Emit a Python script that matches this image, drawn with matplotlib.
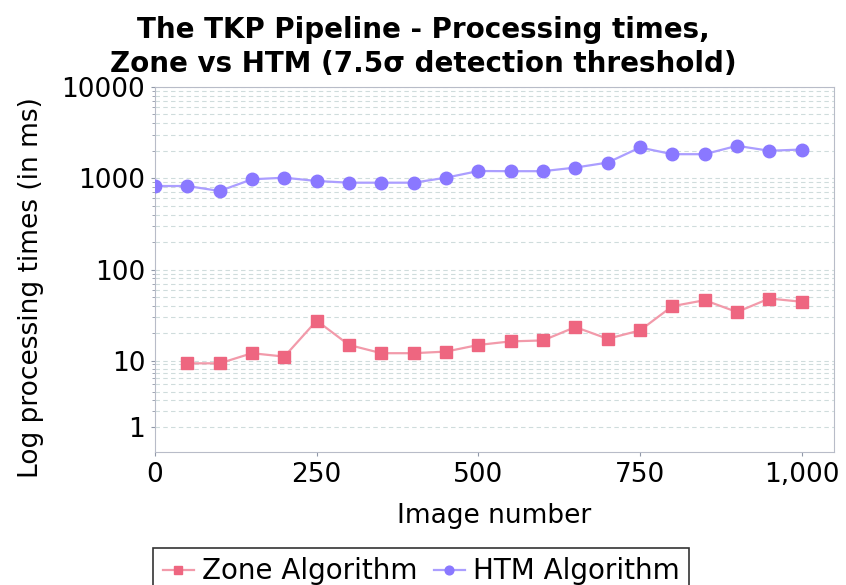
import numpy as np
import matplotlib.pyplot as plt
from matplotlib.ticker import FixedLocator, NullFormatter, FuncFormatter

# image number on x
htm_x = [0, 50, 100, 150, 200, 250, 300, 350, 400, 450, 500,
         550, 600, 650, 700, 750, 800, 850, 900, 950, 1000]
htm_ms = [822, 822, 725, 974, 1014, 933, 894, 894, 894, 1014, 1200,
          1195, 1195, 1309, 1485, 2173, 1835, 1835, 2268, 2000, 2065]

zone_x = [50, 100, 150, 200, 250, 300, 350, 400, 450, 500,
          550, 600, 650, 700, 750, 800, 850, 900, 950, 1000]
zone_ms = [9.3, 9.3, 12.1, 11.1, 27.5, 14.9, 12.1, 12.1, 12.6, 14.9,
           16.3, 16.7, 23.4, 17.4, 21.5, 39.6, 46.1, 34.2, 48.1, 44.3]

y_ticks = [1, 10, 100, 1000, 10000]


# log axis that bends below 10 so that 0 still fits (v -> v + (10 - v)/10)
def fwd(v):
    v = np.clip(np.asarray(v, dtype=float), 0, None)
    return np.where(v < 10, np.log10(0.9 * v + 1), np.log10(np.maximum(v, 1e-12)))


def inv(y):
    y = np.asarray(y, dtype=float)
    return np.where(y < 1, (10 ** y - 1) / 0.9, 10 ** y)


plt.rcParams['font.family'] = 'DejaVu Sans'
fig = plt.figure(figsize=(8.46, 5.85), dpi=100)
ax = fig.add_axes([155 / 846, 1 - 452 / 585, (834 - 155) / 846, (452 - 87) / 585])

zone_col = '#ee6680'
zone_line = '#f29aaa'
htm_col = '#8a78ff'
htm_line = '#ab9eff'

ax.plot(zone_x, zone_ms, color=zone_line, lw=1.6, marker='s', ms=9,
        mfc=zone_col, mec=zone_col, zorder=3, label='Zone Algorithm')
ax.plot(htm_x, htm_ms, color=htm_line, lw=1.6, marker='o', ms=9,
        mfc=htm_col, mec=htm_col, zorder=3, label='HTM Algorithm')

ax.set_yscale('function', functions=(fwd, inv))
ax.set_ylim(0, 10000)
ax.set_xlim(0, 1050)

minor = [k * 10 ** d for d in range(0, 4) for k in range(2, 10)]
ax.yaxis.set_major_locator(FixedLocator(y_ticks))
ax.yaxis.set_minor_locator(FixedLocator(minor))
ax.yaxis.set_major_formatter(FuncFormatter(lambda v, p: f'{v:.0f}'))
ax.yaxis.set_minor_formatter(NullFormatter())

ax.set_xticks([0, 250, 500, 750, 1000])
ax.xaxis.set_major_formatter(FuncFormatter(lambda v, p: f'{v:,.0f}'))

grid_col = '#cfdcdc'
ax.grid(True, which='both', axis='y', color=grid_col, ls=(0, (4, 3)), lw=0.8)
ax.grid(False, axis='x')

for s in ax.spines.values():
    s.set_color('#b8bcc8')
ax.tick_params(which='both', direction='out', length=3, color='#9098a8',
               labelsize=19, pad=4)
ax.tick_params(which='minor', length=2)

ax.set_xlabel('Image number', fontsize=19, labelpad=11)
ax.set_ylabel('Log processing times (in ms)', fontsize=19)
ax.yaxis.set_label_coords(-0.163, 0.45)
fig.suptitle('The TKP Pipeline - Processing times,\nZone vs HTM (7.5σ detection threshold)',
             fontsize=20, fontweight='bold', y=0.973, linespacing=1.3)

leg = fig.legend(loc='upper center', bbox_to_anchor=(0.498, 0.064), ncol=2,
                 fontsize=20, frameon=True, fancybox=False, handlelength=1.1,
                 handletextpad=0.3, columnspacing=0.6, borderpad=0.35,
                 markerscale=0.7, borderaxespad=0)
leg.get_frame().set_edgecolor('black')
leg.get_frame().set_linewidth(1.2)

fig.savefig('out.png', dpi=100)
